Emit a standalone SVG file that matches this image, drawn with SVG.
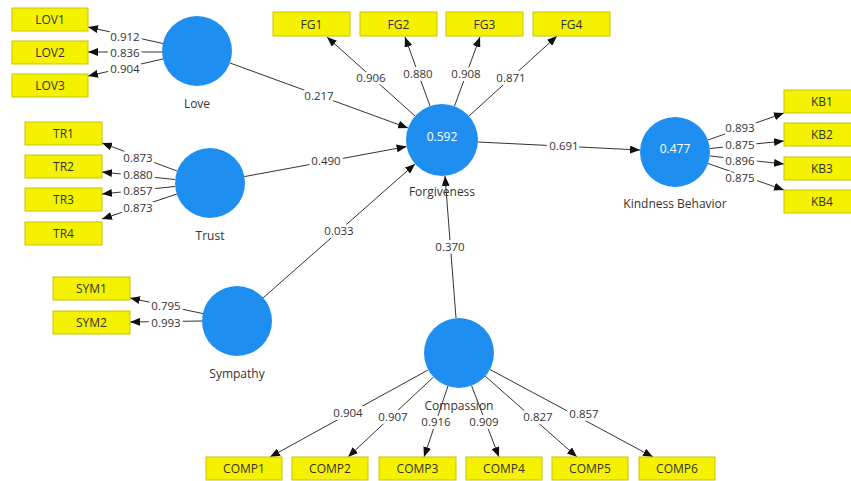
<svg xmlns="http://www.w3.org/2000/svg" width="851" height="481" viewBox="0 0 851 481">
<defs>
<marker id="ah" markerUnits="userSpaceOnUse" markerWidth="10" markerHeight="8" refX="10" refY="4" orient="auto">
<path d="M0,0 L10,4 L0,8 z" fill="#111"/>
</marker>
<style>
.box{fill:#f5f200;stroke:#c9c400;stroke-width:1}
.bt{font-family:"Open Sans","Noto Sans","Liberation Sans",sans-serif;font-size:12px;fill:#333;text-anchor:middle;dominant-baseline:central}
.lv{fill:#1e8ff0}
.lvt{font-family:"Open Sans","Noto Sans","Liberation Sans",sans-serif;font-size:12px;fill:#fff;text-anchor:middle;dominant-baseline:central}
.nm{font-family:"Open Sans","Noto Sans","Liberation Sans",sans-serif;font-size:12px;fill:#333;text-anchor:middle;dominant-baseline:central}
.ln{stroke:#333;stroke-width:1;fill:none;marker-end:url(#ah)}
.lb{font-family:"Open Sans","Noto Sans","Liberation Sans",sans-serif;font-size:11.5px;fill:#333;text-anchor:middle;dominant-baseline:central;stroke:#fff;stroke-width:6;paint-order:stroke;stroke-linejoin:round}
</style>
</defs>
<rect width="851" height="481" fill="#fff"/>
<g id="connectors">
<line class="ln" x1="163" y1="43.5" x2="88" y2="27"/>
<line class="ln" x1="162" y1="52" x2="88" y2="52"/>
<line class="ln" x1="163" y1="59" x2="88" y2="76"/>
<line class="ln" x1="177" y1="171" x2="102" y2="143"/>
<line class="ln" x1="175" y1="179.5" x2="102" y2="172"/>
<line class="ln" x1="175" y1="186.5" x2="102" y2="194"/>
<line class="ln" x1="177" y1="194" x2="102" y2="219"/>
<line class="ln" x1="203" y1="313.6" x2="130" y2="298"/>
<line class="ln" x1="202" y1="321" x2="130" y2="322"/>
<line class="ln" x1="415" y1="116" x2="327" y2="37"/>
<line class="ln" x1="430" y1="106" x2="405" y2="37"/>
<line class="ln" x1="454.5" y1="106" x2="480" y2="37"/>
<line class="ln" x1="469" y1="116" x2="557" y2="36"/>
<line class="ln" x1="230" y1="63" x2="408" y2="128"/>
<line class="ln" x1="244.4" y1="176.6" x2="406.6" y2="146.6"/>
<line class="ln" x1="263" y1="298" x2="415" y2="164"/>
<line class="ln" x1="456" y1="318" x2="445" y2="176"/>
<line class="ln" x1="478" y1="142" x2="640" y2="150"/>
<line class="ln" x1="708" y1="140" x2="784" y2="113"/>
<line class="ln" x1="710" y1="148.5" x2="784" y2="141"/>
<line class="ln" x1="710" y1="156" x2="784" y2="164"/>
<line class="ln" x1="708" y1="163.5" x2="784" y2="190"/>
<line class="ln" x1="428" y1="370" x2="270" y2="457"/>
<line class="ln" x1="433.5" y1="377" x2="348" y2="457"/>
<line class="ln" x1="448" y1="386" x2="424" y2="457"/>
<line class="ln" x1="471.6" y1="385.7" x2="499" y2="457"/>
<line class="ln" x1="485" y1="376" x2="577" y2="457"/>
<line class="ln" x1="490" y1="369.5" x2="653" y2="457"/>
<text class="lb" x="125" y="36">0.912</text>
<text class="lb" x="125" y="52">0.836</text>
<text class="lb" x="125" y="68">0.904</text>
<text class="lb" x="138" y="157">0.873</text>
<text class="lb" x="138" y="174">0.880</text>
<text class="lb" x="138" y="190">0.857</text>
<text class="lb" x="138" y="207">0.873</text>
<text class="lb" x="166" y="305">0.795</text>
<text class="lb" x="166" y="322">0.993</text>
<text class="lb" x="371" y="77">0.906</text>
<text class="lb" x="418" y="73">0.880</text>
<text class="lb" x="466" y="73">0.908</text>
<text class="lb" x="511" y="77">0.871</text>
<text class="lb" x="319" y="95">0.217</text>
<text class="lb" x="326" y="160">0.490</text>
<text class="lb" x="339" y="230">0.033</text>
<text class="lb" x="450" y="246">0.370</text>
<text class="lb" x="564" y="145">0.691</text>
<text class="lb" x="740" y="127">0.893</text>
<text class="lb" x="740" y="144">0.875</text>
<text class="lb" x="740" y="160">0.896</text>
<text class="lb" x="740" y="177">0.875</text>
<text class="lb" x="348" y="412">0.904</text>
<text class="lb" x="393" y="416">0.907</text>
<text class="lb" x="436" y="421">0.916</text>
<text class="lb" x="484" y="421">0.909</text>
<text class="lb" x="538" y="416">0.827</text>
<text class="lb" x="584" y="413">0.857</text>
</g>
<g id="LOV1"><rect class="box" x="12" y="8" width="76" height="23"/><text class="bt" x="50" y="19.5">LOV1</text></g>
<g id="LOV2"><rect class="box" x="12" y="41" width="76" height="23"/><text class="bt" x="50" y="52.5">LOV2</text></g>
<g id="LOV3"><rect class="box" x="12" y="74" width="76" height="23"/><text class="bt" x="50" y="85.5">LOV3</text></g>
<g id="TR1"><rect class="box" x="25" y="122" width="77" height="23"/><text class="bt" x="63.5" y="133.5">TR1</text></g>
<g id="TR2"><rect class="box" x="25" y="155" width="77" height="23"/><text class="bt" x="63.5" y="166.5">TR2</text></g>
<g id="TR3"><rect class="box" x="25" y="188" width="77" height="23"/><text class="bt" x="63.5" y="199.5">TR3</text></g>
<g id="TR4"><rect class="box" x="25" y="222" width="77" height="23"/><text class="bt" x="63.5" y="233.5">TR4</text></g>
<g id="SYM1"><rect class="box" x="53" y="277" width="77" height="23"/><text class="bt" x="91.5" y="288.5">SYM1</text></g>
<g id="SYM2"><rect class="box" x="53" y="311" width="77" height="23"/><text class="bt" x="91.5" y="322.5">SYM2</text></g>
<g id="FG1"><rect class="box" x="273" y="12" width="77" height="24"/><text class="bt" x="311.5" y="24">FG1</text></g>
<g id="FG2"><rect class="box" x="360" y="12" width="77" height="24"/><text class="bt" x="398.5" y="24">FG2</text></g>
<g id="FG3"><rect class="box" x="446" y="12" width="77" height="24"/><text class="bt" x="484.5" y="24">FG3</text></g>
<g id="FG4"><rect class="box" x="533" y="12" width="77" height="24"/><text class="bt" x="571.5" y="24">FG4</text></g>
<g id="KB1"><rect class="box" x="784" y="90" width="76" height="23"/><text class="bt" x="822" y="101.5">KB1</text></g>
<g id="KB2"><rect class="box" x="784" y="123" width="76" height="23"/><text class="bt" x="822" y="134.5">KB2</text></g>
<g id="KB3"><rect class="box" x="784" y="157" width="76" height="23"/><text class="bt" x="822" y="168.5">KB3</text></g>
<g id="KB4"><rect class="box" x="784" y="190" width="76" height="23"/><text class="bt" x="822" y="201.5">KB4</text></g>
<g id="COMP1"><rect class="box" x="206" y="457" width="76" height="23"/><text class="bt" x="244" y="468.5">COMP1</text></g>
<g id="COMP2"><rect class="box" x="292" y="457" width="76" height="23"/><text class="bt" x="330" y="468.5">COMP2</text></g>
<g id="COMP3"><rect class="box" x="379" y="457" width="77" height="23"/><text class="bt" x="417.5" y="468.5">COMP3</text></g>
<g id="COMP4"><rect class="box" x="466" y="457" width="76" height="23"/><text class="bt" x="504" y="468.5">COMP4</text></g>
<g id="COMP5"><rect class="box" x="552" y="457" width="76" height="23"/><text class="bt" x="590" y="468.5">COMP5</text></g>
<g id="COMP6"><rect class="box" x="639" y="457" width="76" height="23"/><text class="bt" x="677" y="468.5">COMP6</text></g>
<g id="Love"><circle class="lv" cx="197" cy="51" r="35"/><text class="nm" x="197" y="103">Love</text></g>
<g id="Trust"><circle class="lv" cx="210" cy="183" r="35"/><text class="nm" x="210" y="235">Trust</text></g>
<g id="Sympathy"><circle class="lv" cx="237" cy="321" r="35"/><text class="nm" x="237" y="373">Sympathy</text></g>
<g id="Forgiveness"><circle class="lv" cx="442" cy="140" r="36"/><text class="lvt" x="442" y="136">0.592</text><text class="nm" x="442" y="191">Forgiveness</text></g>
<g id="KindnessBehavior"><circle class="lv" cx="675" cy="152" r="35"/><text class="lvt" x="675" y="148">0.477</text><text class="nm" x="675" y="203">Kindness Behavior</text></g>
<g id="Compassion"><circle class="lv" cx="459" cy="353" r="35"/><text class="nm" x="459" y="405">Compassion</text></g>
</svg>
